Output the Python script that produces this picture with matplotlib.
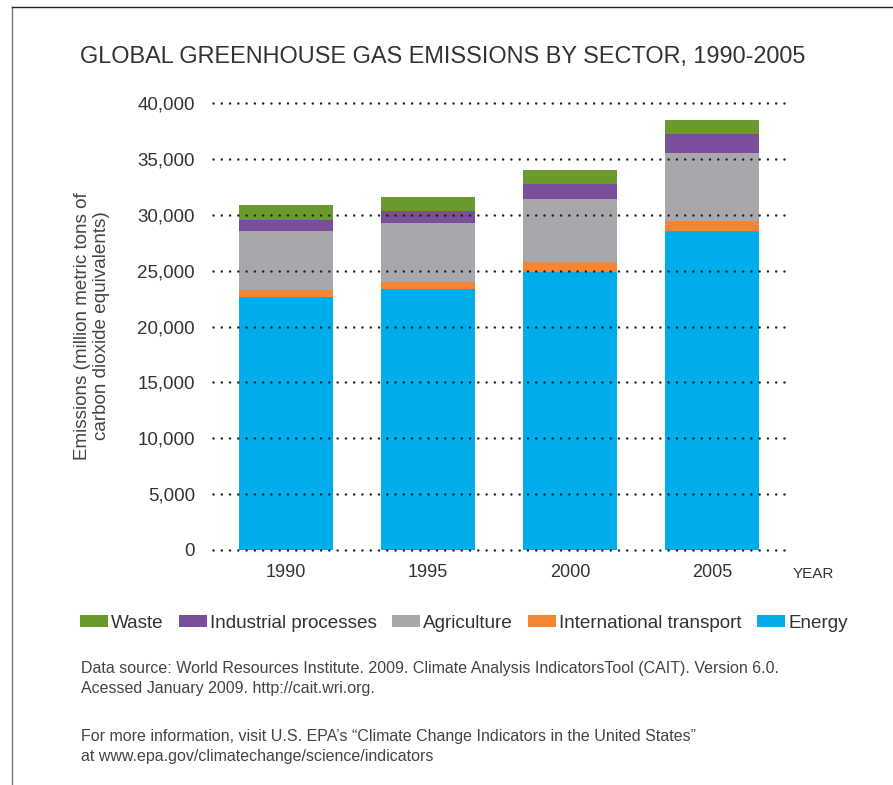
import numpy as np
import matplotlib
matplotlib.use("Agg")
import matplotlib.pyplot as plt
from matplotlib.patches import Patch
from matplotlib.lines import Line2D

plt.rcParams["font.family"] = ["Liberation Sans", "DejaVu Sans"]

# data (million metric tons CO2 equivalent)
years = ["1990", "1995", "2000", "2005"]
energy = [22600, 23350, 24900, 28550]
transport = [700, 630, 870, 900]
agriculture = [5280, 5280, 5640, 6090]
industrial = [990, 1070, 1370, 1700]
waste = [1340, 1250, 1230, 1250]

sector_names = ["Energy", "International transport", "Agriculture",
                "Industrial processes", "Waste"]
sector_colors = ["#00adea", "#f48632", "#a7a8ab", "#7a4e9b", "#6a9a2e"]
yticks = list(range(0, 40001, 5000))

W, H = 893, 785
fig = plt.figure(figsize=(W / 100, H / 100), dpi=100)
ax = fig.add_axes([213 / W, 235 / H, 572 / W, 447 / H])

x = np.arange(len(years))
bottom = np.zeros(len(years))
for name, vals, col in zip(sector_names,
                           [energy, transport, agriculture, industrial, waste],
                           sector_colors):
    ax.bar(x, vals, width=0.66, bottom=bottom, color=col, label=name,
           linewidth=0, zorder=2)
    bottom += np.array(vals)

ax.set_xlim(-0.514, 3.514)
ax.set_ylim(0, 40000)
ax.set_yticks(yticks)
ax.set_yticklabels([f"{v:,}" for v in yticks], fontsize=13.5, color="#333333")
ax.set_xticks(x)
ax.set_xticklabels(years, fontsize=13, color="#333333")
ax.tick_params(axis="y", length=0, pad=13)
ax.tick_params(axis="x", length=0, pad=10)
for s in ax.spines.values():
    s.set_visible(False)

# dotted gridlines drawn on top of bars
for yv in yticks:
    ax.axhline(yv, color="#231f20", lw=1.8, linestyle=(0, (0.01, 3.3)),
               dash_capstyle="round", clip_on=False, zorder=5)

ax.text(1.014, -0.053, "YEAR", transform=ax.transAxes, ha="left", va="center",
        fontsize=11, color="#333333")

fig.text(92 / W, 1 - 326 / H,
         "Emissions (million metric tons of\ncarbon dioxide equivalents)",
         rotation=90, ha="center", va="center", fontsize=13.6,
         color="#444444", linespacing=1.1)

fig.text(80 / W, 1 - 56 / H,
         "GLOBAL GREENHOUSE GAS EMISSIONS BY SECTOR, 1990-2005",
         ha="left", va="center", fontsize=16.9, color="#333333")

# legend (reverse stacking order)
order = [4, 3, 2, 1, 0]
handles = [Patch(facecolor=sector_colors[i], edgecolor="none") for i in order]
labels = [sector_names[i] for i in order]
fig.legend(handles, labels, loc="center left",
           bbox_to_anchor=(80 / W, 1 - 623 / H), ncol=5, frameon=False,
           fontsize=13.6, handlelength=1.5, handleheight=0.6,
           handletextpad=0.15, columnspacing=0.8, borderpad=0,
           borderaxespad=0, labelcolor="#333333")

fig.text(81 / W, 1 - 678.5 / H,
         "Data source: World Resources Institute. 2009. Climate Analysis "
         "IndicatorsTool (CAIT). Version 6.0.\nAcessed January 2009. "
         "http://cait.wri.org.",
         ha="left", va="center", fontsize=11.5, color="#444444",
         linespacing=1.35)
fig.text(81 / W, 1 - 746.5 / H,
         "For more information, visit U.S. EPA\u2019s \u201cClimate Change "
         "Indicators in the United States\u201d\nat "
         "www.epa.gov/climatechange/science/indicators",
         ha="left", va="center", fontsize=11.5, color="#444444",
         linespacing=1.35)

# page border (top and left)
fig.add_artist(Line2D([12 / W, 12 / W], [0, 1 - 7 / H], transform=fig.transFigure,
                      color="#777777", lw=1))
fig.add_artist(Line2D([12 / W, 1], [1 - 7 / H, 1 - 7 / H],
                      transform=fig.transFigure, color="#222222", lw=1))

fig.savefig("out.png", dpi=100)
